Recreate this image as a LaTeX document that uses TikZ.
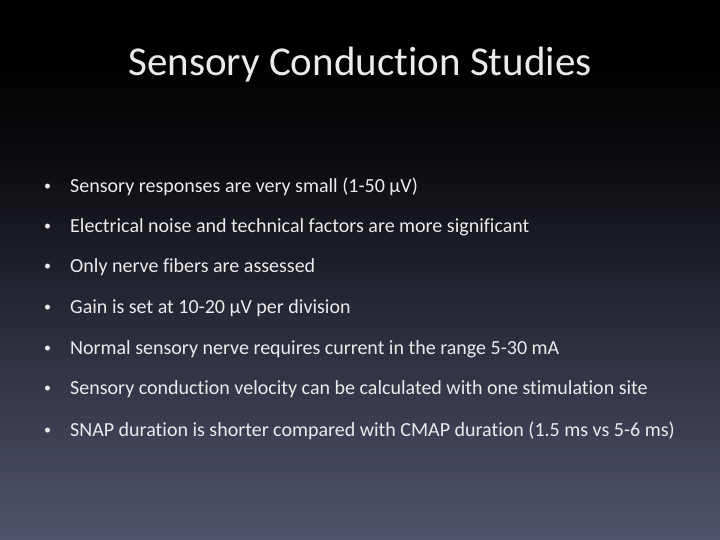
\documentclass[tikz,border=0pt]{standalone}
\usepackage{fontspec}
\setmainfont{Carlito}[Ligatures=NoCommon]
\definecolor{bgbot}{RGB}{80,84,108}
\definecolor{bgmid}{RGB}{28,30,40}
\definecolor{txt}{RGB}{235,235,235}
\begin{document}
\begin{tikzpicture}[x=1pt,y=1pt,
  bul/.style={anchor=west,text=txt,font=\fontsize{20}{24}\selectfont,inner sep=0},
  dot/.style={anchor=west,text=txt,font=\fontsize{14}{16}\selectfont,inner sep=0},
  ttl/.style={text=txt,font=\fontsize{41}{48}\selectfont,inner sep=0}]
\useasboundingbox (0,0) rectangle (720,-540);
\fill[black] (0,0) rectangle (720,-60);
\shade[top color=black,bottom color=black!60!bgmid] (0,-60) rectangle (720,-160);
\shade[top color=black!60!bgmid,bottom color=bgbot] (0,-160) rectangle (720,-540);
\node[ttl] (t) at (360,-65) {Sensory Conduction Studies};
\foreach \y/\s [count=\i] in {187/{Sensory responses are very small (1-50 µV)},
227/{Electrical noise and technical factors are more significant},
267/{Only nerve fibers are assessed},
308/{Gain is set at 10-20 µV per division},
349/{Normal sensory nerve requires current in the range 5-30 mA},
389/{Sensory conduction velocity can be calculated with one stimulation site},
431/{SNAP duration is shorter compared with CMAP duration (1.5 ms vs 5-6 ms)}}{
  \node[dot] (b\i) at (44,-\y) {•};
  \node[bul] (l\i) at (70,-\y) {\s};
}
\end{tikzpicture}
\end{document}
